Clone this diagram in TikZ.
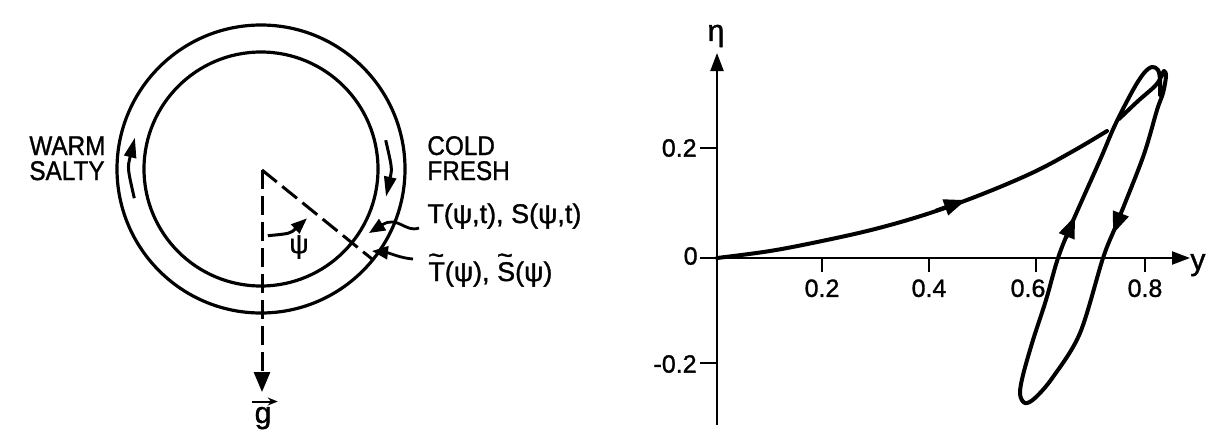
\documentclass[tikz,border=0pt]{standalone}
\usepackage{fontspec}
\setmainfont{Liberation Sans}
\newfontfamily\labfont{Liberation Sans}[FakeBold=1.2]
\usetikzlibrary{arrows.meta,calc}
\begin{document}
\begin{tikzpicture}[x=0.5pt,y=-0.5pt,
  ring/.style={line width=1.6pt},
  flow/.style={line width=1.5pt,-{Triangle[length=10pt,width=6pt]}},
  leader/.style={line width=1.4pt,-{Triangle[length=8pt,width=6.5pt]}},
  dashln/.style={line width=1.5pt,dash pattern=on 9.5pt off 3.5pt},
  lbl/.style={inner sep=0pt,font=\labfont\fontsize{13.5}{15}\selectfont},
  num/.style={inner sep=0pt,font=\labfont\fontsize{12.5}{14}\selectfont},
  big/.style={inner sep=0pt,font=\labfont\fontsize{15}{17}\selectfont},
  axisln/.style={line width=1.1pt,-{Triangle[length=9pt,width=6.5pt]}},
  tickln/.style={line width=1.1pt},
  traj/.style={line width=2pt,line cap=round,line join=round},
  trajhead/.style={line width=2pt,-{Triangle[length=11pt,width=8pt]}}
]
\newcommand{\tld}[1]{\makebox[0pt][l]{\raisebox{0.62em}{\textasciitilde}}#1}
\useasboundingbox (0,0) rectangle (1218,434);
\fill[white] (0,0) rectangle (1218,434);

% ---------------- left: circular loop ----------------
\coordinate (c) at (261,169);
\draw[ring] (c) circle[radius=144];
\draw[ring] (c) circle[radius=117];
\coordinate (wl0) at (134.3,198.2);
\coordinate (wl1) at (134.9,137.6);
\draw[flow] (wl0) .. controls (127.4,167.9) .. (wl1);
\coordinate (cr0) at (385.7,140.2);
\coordinate (cr1) at (386,196.7);
\draw[flow] (cr0) .. controls (392.2,168.4) .. (cr1);

\coordinate (a) at (262,170);
\coordinate (gt) at (262,392);
\coordinate (d) at (372,259);
\draw[dashln,-{Triangle[length=10pt,width=8pt]}] (a) -- (gt);
\draw[dashln] (a) -- (d);
\coordinate (p0) at (267.8,235.7);
\coordinate (p1) at (307,218.3);
\draw[line width=1.5pt,-{Triangle[length=8pt,width=6pt]}] (p0) .. controls (290.2,233.6) .. (p1);

\node[lbl,anchor=base west] (warm) at (29,155) {\scalebox{0.9}[1]{WARM}};
\node[lbl,anchor=base west] (salty) at (29,180) {\scalebox{0.9}[1]{SALTY}};
\node[lbl,anchor=base west] (cold) at (427,155) {\scalebox{0.9}[1]{COLD}};
\node[lbl,anchor=base west] (fresh) at (427,180) {\scalebox{0.9}[1]{FRESH}};
\node[lbl,anchor=base west] (tl) at (427,223) {T(ψ,t), S(ψ,t)};
\node[lbl,anchor=base west] (tt) at (428,281) {\tld{T}(ψ), \tld{S}(ψ)};
\node[lbl] (psi) at (299,247) {ψ};
\node[big,anchor=base] (g) at (263,423) {g};
\draw[line width=1pt,-{Stealth[length=5pt,width=4pt]}] ([xshift=-1pt,yshift=2.5pt]g.north west) -- ([xshift=3pt,yshift=2.5pt]g.north east);

\coordinate (tipA) at (369,233);
\coordinate (tipB) at (372,251);
\draw[leader] ($(tl.base west)+(-8,5)$) .. controls (405,233) and (398,215) .. (tipA);
\draw[leader] ($(tt.base west)+(-15,-22)$) .. controls (400,258) and (390,253) .. (tipB);

% ---------------- right: phase plot ----------------
\coordinate (O) at (717,258);
\draw[axisln] (717,425) -- (717,53);
\draw[axisln] (700,258) -- (1190,258);
\foreach \xx in {822,929,1036,1145} \draw[tickln] (\xx,258) -- (\xx,272);
\draw[tickln] (700,148) -- (717,148);
\draw[tickln] (700,363) -- (717,363);

\node[big] (eta) at (716,36) {η};
\node[big,anchor=base west] (ylab) at (1190,270) {y};
\node[num,anchor=north] (x02) at (822,279) {0.2};
\node[num,anchor=north] (x04) at (929,279) {0.4};
\node[num,anchor=north] (x06) at (1028,279) {0.6};
\node[num,anchor=north] (x08) at (1145,279) {0.8};
\node[num,anchor=east] (e02) at (697,148) {0.2};
\node[num,anchor=east] (e0) at (698,256) {0};
\node[num,anchor=east] (em02) at (697,364) {-0.2};

\draw[traj] plot[smooth,tension=0.6] coordinates {(717,258) (770,251) (822,241) (875,229) (927,214) (980,195) (1034,172) (1075,150) (1107,131)};
\draw[traj] plot[smooth,tension=0.55] coordinates {(1119,119) (1138,101) (1155,86) (1161,77) (1164,71) (1166,76) (1163,93) (1157,110) (1143,157) (1117,223) (1103,258) (1080,333) (1053,377) (1035,398) (1025,403) (1020,394) (1023,375) (1033,340) (1046,300) (1058,258) (1072,223) (1100,160) (1115,125) (1133,90) (1144,73) (1152,67) (1158,70) (1160,80) (1160,95)};
\draw[trajhead] (936,210.7) -- (966,200);
\draw[trajhead] (1066,238) -- (1075,216);
\draw[trajhead] (1121,213) -- (1113,234);
\end{tikzpicture}
\end{document}
